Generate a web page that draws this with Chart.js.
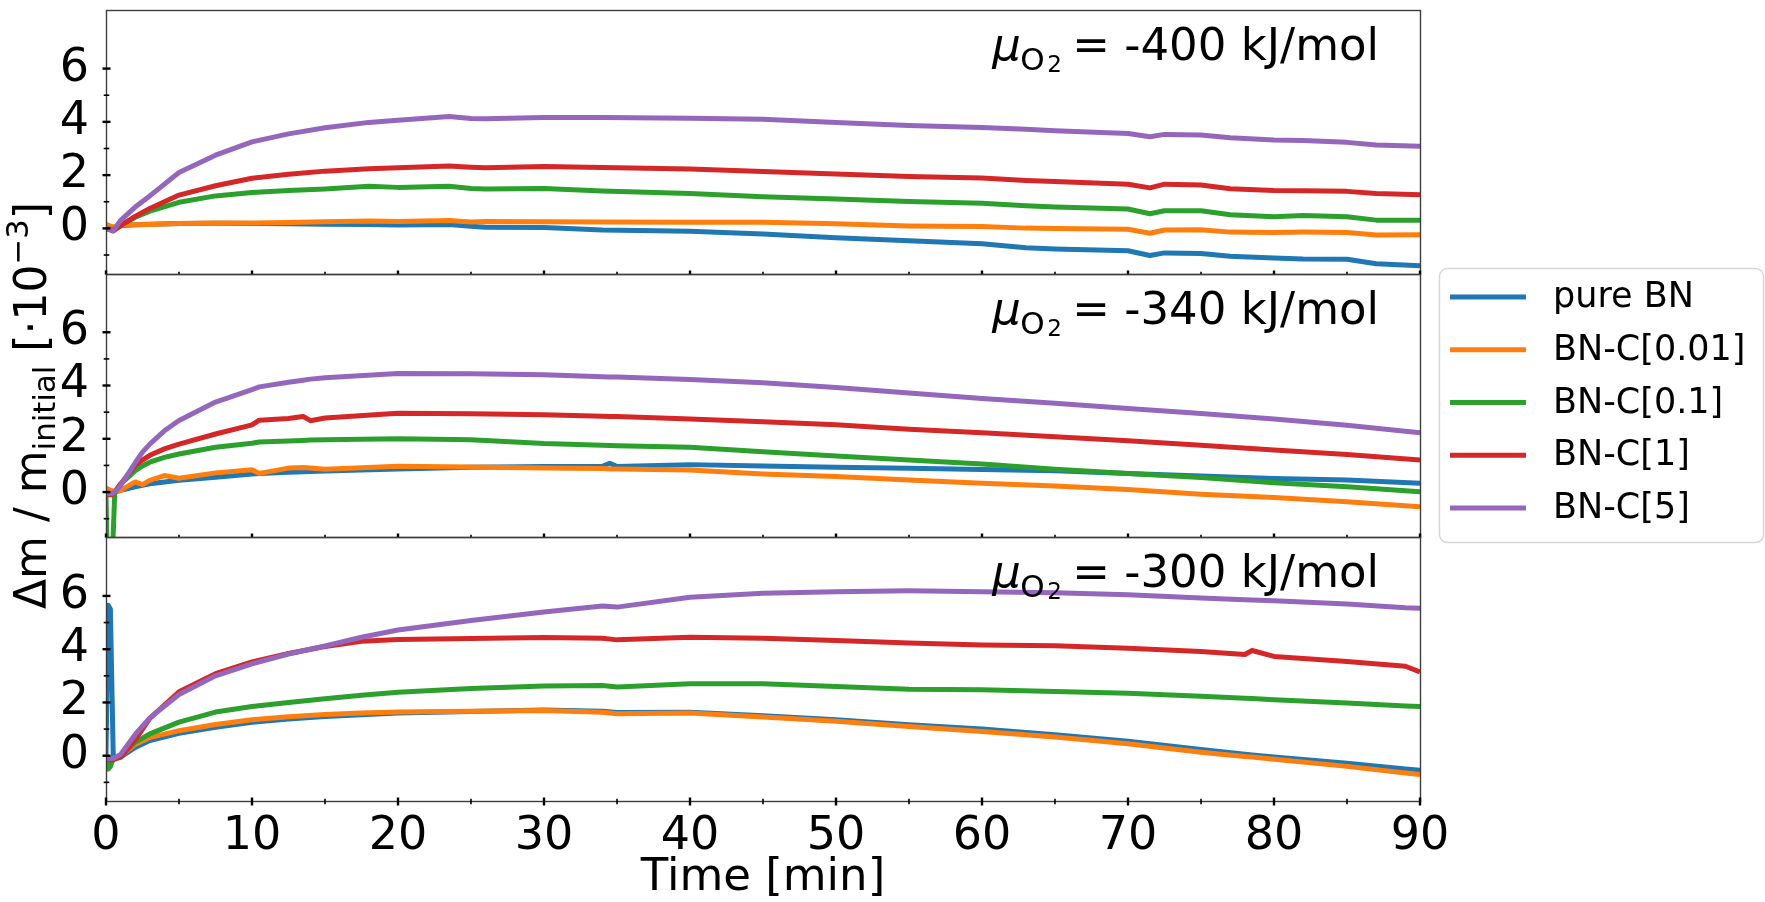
<!DOCTYPE html>
<html>
<head>
<meta charset="utf-8">
<title>Mass change under oxygen</title>
<script src="https://cdn.jsdelivr.net/npm/chart.js@4.4.1/dist/chart.umd.min.js"></script>
<style>
  html, body { margin: 0; padding: 0; background: #fff; }
  #wrap { width: 1765px; height: 902px; }
</style>
</head>
<body>
<div id="wrap"><canvas id="massChart" width="1765" height="902"></canvas></div>
<script>
// ── DATA ─────────────────────────────────────────────────────────────────────
// Δm / m_initial in units of 1e-3, sampled by time [min]
const SERIES_LABELS = ['pure BN', 'BN-C[0.01]', 'BN-C[0.1]', 'BN-C[1]', 'BN-C[5]'];
const SERIES_COLORS = ['#1f77b4', '#ff7f0e', '#2ca02c', '#d62728', '#9467bd'];

const X_TICKS = [0, 10, 20, 30, 40, 50, 60, 70, 80, 90];
const X_MINOR = [5, 15, 25, 35, 45, 55, 65, 75, 85];
const Y_TICKS = [0, 2, 4, 6];
const Y_MINOR = [-1, 1, 3, 5];

// mu_O2 = -400 kJ/mol
const T_400 = [0, 0.5, 1, 2, 3, 5, 7.5, 10, 12.5, 15, 18, 20, 23.5, 25, 26, 30, 34, 40, 45, 50,
               55, 60, 63, 65, 70, 71.5, 72.5, 75, 77, 80, 82, 85, 87, 90];
const PURE_BN_400 = [0, -0.05, 0.1, 0.14, 0.16, 0.18, 0.19, 0.18, 0.17, 0.16, 0.15, 0.13, 0.15, 0.08, 0.04, 0.03, -0.06, -0.11, -0.21, -0.35,
                     -0.46, -0.58, -0.73, -0.77, -0.84, -1.02, -0.92, -0.94, -1.05, -1.11, -1.15, -1.16, -1.33, -1.4];
const BNC_001_400 = [0.15, 0.05, 0.12, 0.14, 0.15, 0.18, 0.2, 0.2, 0.22, 0.25, 0.28, 0.26, 0.3, 0.24, 0.26, 0.25, 0.24, 0.23, 0.23, 0.17,
                     0.09, 0.07, 0.01, 0, -0.03, -0.18, -0.06, -0.05, -0.14, -0.15, -0.14, -0.15, -0.25, -0.24];
const BNC_01_400  = [0, -0.05, 0.12, 0.42, 0.65, 0.98, 1.22, 1.35, 1.42, 1.48, 1.58, 1.54, 1.58, 1.5, 1.48, 1.5, 1.4, 1.31, 1.19, 1.1,
                     1.01, 0.94, 0.85, 0.8, 0.73, 0.55, 0.66, 0.66, 0.51, 0.44, 0.48, 0.44, 0.31, 0.31];
const BNC_1_400   = [0, -0.1, 0.1, 0.45, 0.75, 1.25, 1.6, 1.88, 2.03, 2.15, 2.24, 2.28, 2.34, 2.3, 2.28, 2.32, 2.29, 2.23, 2.14, 2.04,
                     1.95, 1.89, 1.8, 1.76, 1.66, 1.52, 1.66, 1.63, 1.49, 1.42, 1.41, 1.39, 1.31, 1.26];
const BNC_5_400   = [0, -0.08, 0.3, 0.8, 1.22, 2.1, 2.75, 3.25, 3.55, 3.78, 3.98, 4.06, 4.2, 4.13, 4.12, 4.16, 4.16, 4.14, 4.1, 3.98,
                     3.86, 3.79, 3.72, 3.67, 3.56, 3.44, 3.53, 3.51, 3.4, 3.32, 3.3, 3.23, 3.13, 3.08];

// mu_O2 = -340 kJ/mol
const T_340 = [0, 0.1, 0.4, 0.6, 1, 2, 2.5, 3, 4, 5, 7.5, 10, 10.5, 12.5, 13.5, 14, 15, 20, 25, 30,
               34, 34.5, 35, 40, 45, 50, 55, 60, 65, 70, 75, 80, 85, 90];
const PURE_BN_340 = [0, 0, -0.02, 0, 0.06, 0.2, 0.25, 0.31, 0.38, 0.44, 0.56, 0.68, 0.7, 0.74, 0.76, 0.77, 0.79, 0.87, 0.93, 0.96,
                     0.97, 1.08, 0.96, 1.03, 0.98, 0.93, 0.89, 0.85, 0.8, 0.7, 0.6, 0.51, 0.45, 0.33];
const BNC_001_340 = [0.15, 0.12, 0.05, 0.02, 0.06, 0.38, 0.28, 0.44, 0.62, 0.52, 0.72, 0.84, 0.7, 0.9, 0.92, 0.9, 0.86, 0.97, 0.94, 0.9,
                     0.88, 0.87, 0.87, 0.83, 0.68, 0.58, 0.45, 0.33, 0.23, 0.1, -0.08, -0.2, -0.36, -0.55];
const BNC_01_340  = [-0.1, -3, -3, 0, 0.3, 0.8, 0.98, 1.12, 1.3, 1.43, 1.68, 1.83, 1.88, 1.92, 1.94, 1.95, 1.96, 2.0, 1.96, 1.82,
                     1.76, 1.75, 1.74, 1.68, 1.51, 1.35, 1.2, 1.05, 0.86, 0.7, 0.55, 0.35, 0.2, 0.01];
const BNC_1_340   = [-0.05, -0.1, -0.1, 0, 0.3, 1.0, 1.2, 1.38, 1.62, 1.8, 2.18, 2.52, 2.7, 2.76, 2.84, 2.68, 2.78, 2.96, 2.94, 2.9,
                     2.85, 2.84, 2.84, 2.74, 2.64, 2.53, 2.36, 2.23, 2.08, 1.93, 1.76, 1.58, 1.41, 1.2];
const BNC_5_340   = [0, -0.05, -0.05, 0, 0.25, 1.1, 1.5, 1.8, 2.3, 2.69, 3.38, 3.85, 3.95, 4.12, 4.2, 4.24, 4.29, 4.45, 4.44, 4.4,
                     4.33, 4.32, 4.32, 4.23, 4.1, 3.93, 3.72, 3.51, 3.33, 3.14, 2.95, 2.74, 2.51, 2.23];

// mu_O2 = -300 kJ/mol
const T_300 = [0, 0.15, 0.3, 0.5, 1, 2, 3, 5, 7.5, 10, 12.5, 15, 17.5, 20, 25, 30, 34, 35, 40, 45,
               50, 55, 60, 65, 70, 75, 78, 78.5, 80, 85, 89, 90];
const PURE_BN_300 = [0, 5.65, 5.5, -0.1, -0.05, 0.31, 0.57, 0.84, 1.07, 1.26, 1.38, 1.47, 1.54, 1.6, 1.66, 1.72, 1.67, 1.62, 1.63, 1.5,
                     1.35, 1.16, 1.0, 0.79, 0.54, 0.23, 0.06, 0.03, -0.05, -0.28, -0.5, -0.55];
const BNC_001_300 = [-0.1, -0.1, -0.1, -0.1, 0, 0.42, 0.68, 0.94, 1.17, 1.35, 1.46, 1.55, 1.6, 1.64, 1.67, 1.7, 1.63, 1.58, 1.6, 1.45,
                     1.29, 1.1, 0.91, 0.7, 0.45, 0.13, -0.03, -0.05, -0.13, -0.4, -0.65, -0.71];
const BNC_01_300  = [0, -0.5, -0.4, -0.1, 0, 0.5, 0.82, 1.26, 1.64, 1.85, 2.0, 2.14, 2.27, 2.38, 2.52, 2.62, 2.64, 2.58, 2.7, 2.7,
                     2.6, 2.5, 2.48, 2.41, 2.35, 2.23, 2.16, 2.15, 2.1, 1.98, 1.87, 1.85];
const BNC_1_300   = [-0.15, -0.15, -0.15, -0.15, -0.05, 0.6, 1.4, 2.4, 3.08, 3.52, 3.84, 4.1, 4.3, 4.36, 4.4, 4.44, 4.41, 4.35, 4.45, 4.41,
                     4.33, 4.23, 4.16, 4.13, 4.04, 3.91, 3.8, 3.95, 3.73, 3.54, 3.36, 3.15];
const BNC_5_300   = [-0.1, -0.1, -0.1, -0.1, 0.05, 0.8, 1.42, 2.3, 3.0, 3.45, 3.82, 4.12, 4.45, 4.72, 5.08, 5.4, 5.62, 5.58, 5.95, 6.1,
                     6.16, 6.19, 6.16, 6.12, 6.04, 5.92, 5.86, 5.85, 5.82, 5.7, 5.56, 5.54];

// panels top to bottom
const PANELS = [
  { id: 'y400', mu: '-400', time: T_400, series: [PURE_BN_400, BNC_001_400, BNC_01_400, BNC_1_400, BNC_5_400] },
  { id: 'y340', mu: '-340', time: T_340, series: [PURE_BN_340, BNC_001_340, BNC_01_340, BNC_1_340, BNC_5_340] },
  { id: 'y300', mu: '-300', time: T_300, series: [PURE_BN_300, BNC_001_300, BNC_01_300, BNC_1_300, BNC_5_300] },
];

// ── STYLE ────────────────────────────────────────────────────────────────────
const FONT = "'DejaVu Sans', 'Liberation Sans', sans-serif";
const TICK_FS = 46;
const TITLE_FS = 44;
const LEGEND_FS = 35;
const Y_MIN = -1.7, Y_MAX = 8.2;

// ── DATASETS ─────────────────────────────────────────────────────────────────
const datasets = [];
PANELS.forEach(p => {
  p.series.forEach((vals, k) => {
    datasets.push({
      label: SERIES_LABELS[k],
      yAxisID: p.id,
      data: vals.map((v, i) => ({ x: p.time[i], y: v })),
      borderColor: SERIES_COLORS[k],
      borderWidth: 5,
      borderJoinStyle: 'round',
      pointRadius: 0,
      fill: false,
      tension: 0,
      order: 5 - k,   // last series on top
    });
  });
});

function panelScale() {
  return {
    type: 'linear',
    position: 'left',
    stack: 'panels',
    stackWeight: 1,
    min: Y_MIN,
    max: Y_MAX,
    afterBuildTicks: s => { s.ticks = Y_TICKS.map(v => ({ value: v })); },
    afterFit: s => {
      s.width = 106;
      s.paddingTop = 0;
      s.paddingBottom = 0;
    },
    grid: { display: false },
    border: { display: false },
    ticks: { color: '#000', font: { family: FONT, size: TICK_FS }, padding: 9, autoSkip: false },
  };
}

// stacked scales are laid out with the last one on top
const scales = {
  x: {
    type: 'linear',
    min: 0,
    max: 90,
    afterBuildTicks: s => { s.ticks = X_TICKS.map(v => ({ value: v })); },
    afterFit: s => {
      s.height = 101;
      s.paddingLeft = 0;
      s.paddingRight = 0;
    },
    grid: { display: false },
    border: { display: false },
    ticks: { color: '#000', font: { family: FONT, size: TICK_FS }, padding: 0, maxRotation: 0, autoSkip: false },
    title: {
      display: true, text: 'Time [min]', color: '#000',
      font: { family: FONT, size: 45, lineHeight: 1.05 },
      padding: { top: 0, bottom: 0 },
    },
  },
};
PANELS.slice().reverse().forEach(p => { scales[p.id] = panelScale(); });

// ── PLUGINS ──────────────────────────────────────────────────────────────────
function line(ctx, x0, y0, x1, y1, w) {
  ctx.lineWidth = w;
  ctx.beginPath();
  ctx.moveTo(x0, y0);
  ctx.lineTo(x1, y1);
  ctx.stroke();
}

// frames and 'inout' tick marks for every panel
const panelFrame = {
  id: 'panelFrame',
  afterDatasetsDraw(chart) {
    const { ctx } = chart;
    const x = chart.scales.x;
    ctx.save();
    PANELS.forEach((p, i) => {
      const s = chart.scales[p.id];
      const last = i === PANELS.length - 1;
      const L = Math.round(x.left) + 0.5, R = Math.round(x.right) + 0.5;
      const T = Math.round(s.top) + 0.5, B = Math.round(s.bottom) + 0.5;

      ctx.strokeStyle = '#3c3c3c';
      ctx.lineWidth = 1.4;
      ctx.strokeRect(L, T, R - L, B - T);

      ctx.strokeStyle = '#000';
      // x ticks: outer half only shows below the last panel
      const below = (len) => last ? len : 0;
      X_TICKS.forEach(v => {
        const px = x.getPixelForValue(v);
        line(ctx, px, B - 4, px, B + below(4), 2.4);
      });
      X_MINOR.forEach(v => {
        const px = x.getPixelForValue(v);
        line(ctx, px, B - 2.8, px, B + below(2.8), 1.6);
      });
      // y ticks
      Y_TICKS.forEach(v => {
        const py = s.getPixelForValue(v);
        line(ctx, L - 4, py, L + 4, py, 2.4);
      });
      Y_MINOR.forEach(v => {
        const py = s.getPixelForValue(v);
        line(ctx, L - 2.8, py, L + 2.8, py, 1.6);
      });
    });
    ctx.restore();
  },
};

// mu_O2 labels, y-axis title and legend
const decorations = {
  id: 'decorations',
  afterDatasetsDraw(chart) {
    const { ctx, chartArea } = chart;
    ctx.save();
    ctx.fillStyle = '#000';
    ctx.textBaseline = 'alphabetic';
    ctx.textAlign = 'left';

    // chemical potential in the upper right of each panel
    const muFs = 45;
    PANELS.forEach(p => {
      const s = chart.scales[p.id];
      const base = s.top + 50;
      const value = p.mu + ' kJ/mol';
      ctx.font = `${muFs}px ${FONT}`;
      const start = chartArea.right - 41 - ctx.measureText(value).width;
      ctx.fillText(value, start, base);
      ctx.textAlign = 'center';
      ctx.fillText('=', start - 33, base);
      ctx.textAlign = 'left';
      ctx.font = `italic ${muFs}px ${FONT}`;
      ctx.fillText('μ', start - 132, base);
      ctx.font = `${Math.round(muFs * 0.7)}px ${FONT}`;
      ctx.fillText('O', start - 104, base + 10);
      ctx.font = `${Math.round(muFs * 0.5)}px ${FONT}`;
      ctx.fillText('2', start - 77, base + 12);
    });

    // rotated y title, centred on the middle panel
    const mid = chart.scales[PANELS[1].id];
    const parts = [
      { t: 'Δm / m', size: 1, dy: 0 },
      { t: 'initial', size: 0.7, dy: 9 },
      { t: ' [·10', size: 1, dy: 0 },
      { t: '−3', size: 0.7, dy: -18 },
      { t: ']', size: 1, dy: 0 },
    ];
    let total = 0;
    parts.forEach(pt => {
      ctx.font = `${TITLE_FS * pt.size}px ${FONT}`;
      pt.w = ctx.measureText(pt.t).width;
      total += pt.w;
    });
    ctx.translate(46, (mid.top + mid.bottom) / 2);
    ctx.rotate(-Math.PI / 2);
    let tx = -total / 2;
    parts.forEach(pt => {
      ctx.font = `${TITLE_FS * pt.size}px ${FONT}`;
      ctx.fillText(pt.t, tx, pt.dy);
      tx += pt.w;
    });
    ctx.setTransform(1, 0, 0, 1, 0, 0);

    // legend box to the right of the plot
    const lx = chartArea.right + 19, ly = 268, lw = 324, lh = 274;
    ctx.beginPath();
    ctx.roundRect(lx + 0.5, ly + 0.5, lw, lh, 8);
    ctx.fillStyle = 'rgba(255,255,255,0.8)';
    ctx.fill();
    ctx.strokeStyle = '#d6d6d6';
    ctx.lineWidth = 1.5;
    ctx.stroke();
    ctx.font = `${LEGEND_FS}px ${FONT}`;
    ctx.textBaseline = 'middle';
    SERIES_LABELS.forEach((lab, k) => {
      const ry = ly + 29 + k * 52.75;
      ctx.strokeStyle = SERIES_COLORS[k];
      line(ctx, lx + 11, ry, lx + 87, ry, 5);
      ctx.fillStyle = '#000';
      ctx.fillText(lab, lx + 114, ry + 1);
    });
    ctx.restore();
  },
};

// ── CHART ────────────────────────────────────────────────────────────────────
new Chart(document.getElementById('massChart').getContext('2d'), {
  type: 'line',
  data: { datasets },
  options: {
    responsive: false,
    animation: false,
    parsing: false,
    normalized: true,
    layout: { padding: { top: 10, right: 345, left: 0, bottom: 0 } },
    scales,
    plugins: {
      legend: { display: false },
      tooltip: { enabled: false },
    },
  },
  plugins: [panelFrame, decorations],
});
</script>
</body>
</html>
